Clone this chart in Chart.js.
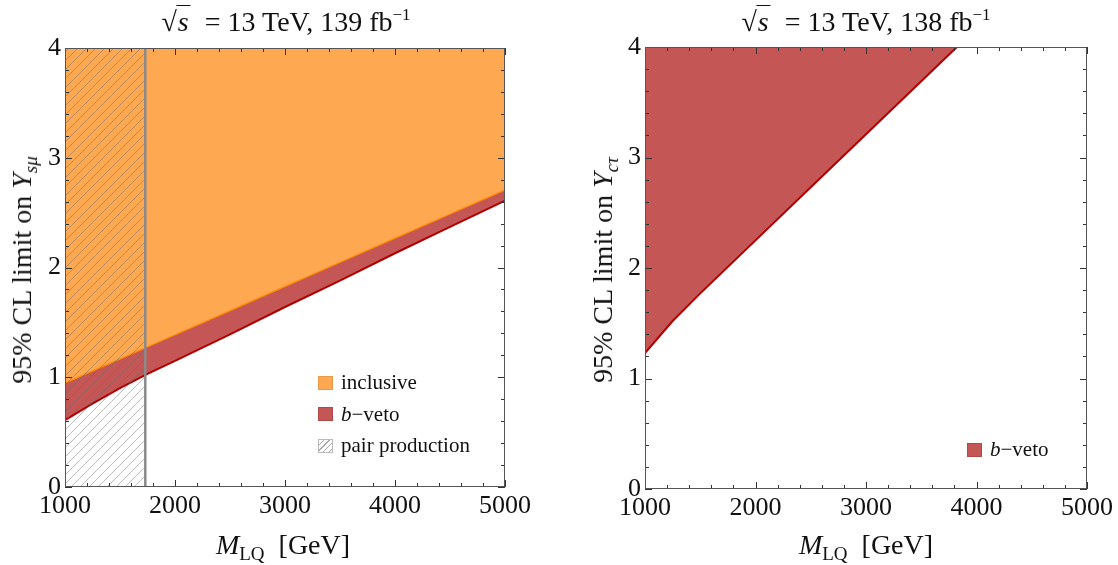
<!DOCTYPE html>
<html>
<head>
<meta charset="utf-8">
<script src="https://cdn.jsdelivr.net/npm/chart.js@4.4.1/dist/chart.umd.min.js"></script>
<style>
  body { margin: 0; background: #fff; }
  #wrap { position: relative; width: 1118px; height: 565px; overflow: hidden;
          font-family: 'Liberation Serif', 'Times New Roman', serif; color: #111; }
  canvas { position: absolute; top: 0; }
  #left { left: 0; }
  #right { left: 559px; }
  .lbl { position: absolute; white-space: nowrap; transform: translate(-50%, -50%); font-size: 28px; }
  .ylbl { transform: translate(-50%, -50%) rotate(-90deg); }
  .ov { border-top: 1.4px solid #111; padding: 0 2px 0 1px; }
  sup { font-size: 17px; vertical-align: 11px; line-height: 0; }
  sub { font-size: 19px; vertical-align: -6px; line-height: 0; }
  .legend { position: absolute; font-size: 21px; }
  .legend div { display: flex; align-items: center; height: 31.5px; }
  .sw { width: 15px; height: 14px; margin-right: 8px; box-sizing: border-box; }
</style>
</head>
<body>
<div id="wrap">
  <canvas id="left" width="559" height="565"></canvas>
  <canvas id="right" width="559" height="565"></canvas>

  <div class="lbl" style="left:286px; top:22px;">√<span class="ov"><i>s</i></span>&nbsp; = 13 TeV, 139 fb<sup>−1</sup></div>
  <div class="lbl" style="left:866px; top:22px;">√<span class="ov"><i>s</i></span>&nbsp; = 13 TeV, 138 fb<sup>−1</sup></div>

  <div class="lbl" style="left:283px; top:545px;"><i>M</i><sub>LQ</sub>&nbsp; [GeV]</div>
  <div class="lbl" style="left:866px; top:545px;"><i>M</i><sub>LQ</sub>&nbsp; [GeV]</div>

  <div class="lbl ylbl" style="left:22px; top:270px;">95% CL limit on <i>Y</i><sub><i>sμ</i></sub></div>
  <div class="lbl ylbl" style="left:603px; top:270px;">95% CL limit on <i>Y</i><sub><i>cτ</i></sub></div>

  <div class="legend" id="legL" style="left:318px; top:367px;"></div>
  <div class="legend" id="legR" style="left:967px; top:434px;"></div>
</div>

<script>
// left panel: sqrt(s) = 13 TeV, 139 fb^-1, Y_smu
const massL = [1000, 1250, 1500, 1750, 2000, 2500, 3000, 3500, 4000, 4500, 5000];
const inclusiveL = [0.94, 1.05, 1.16, 1.27, 1.38, 1.60, 1.82, 2.04, 2.26, 2.48, 2.70];
const bvetoL = [0.61, 0.76, 0.90, 1.03, 1.15, 1.39, 1.64, 1.88, 2.13, 2.37, 2.61];
const pairMass = [1000, 1730];

// right panel: sqrt(s) = 13 TeV, 138 fb^-1, Y_ctau
const massR = [1000, 1250, 1500, 2000, 2500, 3000, 3500, 4000];
const bvetoR = [1.23, 1.52, 1.77, 2.25, 2.73, 3.21, 3.69, 4.17];

const xTicks = [1000, 2000, 3000, 4000, 5000];
const yTicks = [0, 1, 2, 3, 4];
const yTop = 4;

const ORANGE_FILL = '#ffa852';
const ORANGE_LINE = '#ff8a00';
const RED_FILL = '#c55656';
const RED_LINE = '#b00000';
const GRAY = '#8a8a8a';

// hatch pattern for pair production
function makeHatch() {
    const c = document.createElement('canvas');
    c.width = 9; c.height = 9;
    const g = c.getContext('2d');
    g.strokeStyle = 'rgba(100,100,100,0.55)';
    g.lineWidth = 0.8;
    g.beginPath();
    g.moveTo(0, 9); g.lineTo(9, 0);
    g.moveTo(-2, 2); g.lineTo(2, -2);
    g.moveTo(7, 11); g.lineTo(11, 7);
    g.stroke();
    return document.getElementById('left').getContext('2d').createPattern(c, 'repeat');
}
const hatch = makeHatch();

const pts = (xs, ys) => xs.map((x, i) => ({ x: x, y: ys[i] }));

// frame + inward ticks on all four sides, drawn over the fills
const frameTicks = {
    id: 'frameTicks',
    afterDatasetsDraw(chart) {
        const { ctx, chartArea: a, scales: { x, y } } = chart;
        ctx.save();
        ctx.strokeStyle = '#333';
        ctx.lineWidth = 1;
        ctx.beginPath();
        for (let v = 1000; v <= 5000; v += 200) {
            const px = Math.round(x.getPixelForValue(v)) + 0.5;
            const len = v % 1000 === 0 ? 7 : 4;
            ctx.moveTo(px, a.bottom); ctx.lineTo(px, a.bottom - len);
            ctx.moveTo(px, a.top); ctx.lineTo(px, a.top + len);
        }
        for (let i = 0; i <= 20; i++) {
            const v = i * 0.2;
            const py = Math.round(y.getPixelForValue(v)) + 0.5;
            const len = i % 5 === 0 ? 7 : 4;
            ctx.moveTo(a.left, py); ctx.lineTo(a.left + len, py);
            ctx.moveTo(a.right, py); ctx.lineTo(a.right - len, py);
        }
        ctx.stroke();
        ctx.strokeStyle = '#555';
        ctx.strokeRect(a.left + 0.5, a.top + 0.5, a.width - 1, a.height - 1);
        ctx.restore();
    }
};

function scales(yWidth, xHeight) {
    return {
        x: {
            type: 'linear', min: 1000, max: 5000,
            grid: { display: false, drawTicks: false },
            border: { display: false },
            afterBuildTicks: s => { s.ticks = xTicks.map(v => ({ value: v })); },
            afterFit: s => { s.height = xHeight; },
            ticks: { padding: 4, color: '#111', maxRotation: 0,
                     font: { family: 'Liberation Serif', size: 26 },
                     callback: v => String(v) }
        },
        y: {
            type: 'linear', min: 0, max: yTop,
            grid: { display: false, drawTicks: false },
            border: { display: false },
            afterBuildTicks: s => { s.ticks = yTicks.map(v => ({ value: v })); },
            afterFit: s => { s.width = yWidth; },
            ticks: { padding: 4, color: '#111',
                     font: { family: 'Liberation Serif', size: 26 },
                     callback: v => String(v) }
        }
    };
}

const common = {
    responsive: false,
    animation: false,
    plugins: { legend: { display: false }, tooltip: { enabled: false } },
    elements: { point: { radius: 0 }, line: { tension: 0 } }
};

new Chart(document.getElementById('left'), {
    type: 'line',
    data: {
        datasets: [
            {
                label: 'pair production',
                data: pts(pairMass, [yTop, yTop]),
                fill: 'origin',
                backgroundColor: hatch,
                borderWidth: 0,
                order: 1
            },
            {
                label: 'pair limit',
                data: pts([pairMass[1], pairMass[1]], [0, yTop]),
                borderColor: GRAY,
                borderWidth: 2.5,
                fill: false,
                order: 0
            },
            {
                label: 'inclusive',
                data: pts(massL, inclusiveL),
                fill: 'end',
                backgroundColor: ORANGE_FILL,
                borderColor: ORANGE_LINE,
                borderWidth: 2.5,
                order: 3
            },
            {
                label: 'b−veto',
                data: pts(massL, bvetoL),
                fill: '-1',
                backgroundColor: RED_FILL,
                borderColor: RED_LINE,
                borderWidth: 2,
                order: 2
            }
        ]
    },
    options: Object.assign({}, common, {
        layout: { padding: { left: 0, top: 48, right: 54, bottom: 0 } },
        scales: scales(65, 78)
    }),
    plugins: [frameTicks]
});

new Chart(document.getElementById('right'), {
    type: 'line',
    data: {
        datasets: [
            {
                label: 'b−veto',
                data: pts(massR, bvetoR),
                fill: 'end',
                backgroundColor: RED_FILL,
                borderColor: RED_LINE,
                borderWidth: 2
            }
        ]
    },
    options: Object.assign({}, common, {
        layout: { padding: { left: 0, top: 47, right: 31, bottom: 0 } },
        scales: scales(86, 76)
    }),
    plugins: [frameTicks]
});

// legends
const hatchCss = 'repeating-linear-gradient(135deg, transparent 0 3px, #aaa 3px 4px)';
const legL = [
    { text: 'inclusive', style: 'background:' + ORANGE_FILL + ';border:1px solid #e89a4a' },
    { text: '<i>b</i>−veto', style: 'background:' + RED_FILL + ';border:1px solid #b04a4a' },
    { text: 'pair production', style: 'background:' + hatchCss + ';border:1px solid #bbb' }
];
const legR = [
    { text: '<i>b</i>−veto', style: 'background:' + RED_FILL + ';border:1px solid #b04a4a' }
];
function fillLegend(id, items) {
    document.getElementById(id).innerHTML = items.map(it =>
        '<div><span class="sw" style="' + it.style + '"></span><span>' + it.text + '</span></div>'
    ).join('');
}
fillLegend('legL', legL);
fillLegend('legR', legR);
</script>
</body>
</html>
